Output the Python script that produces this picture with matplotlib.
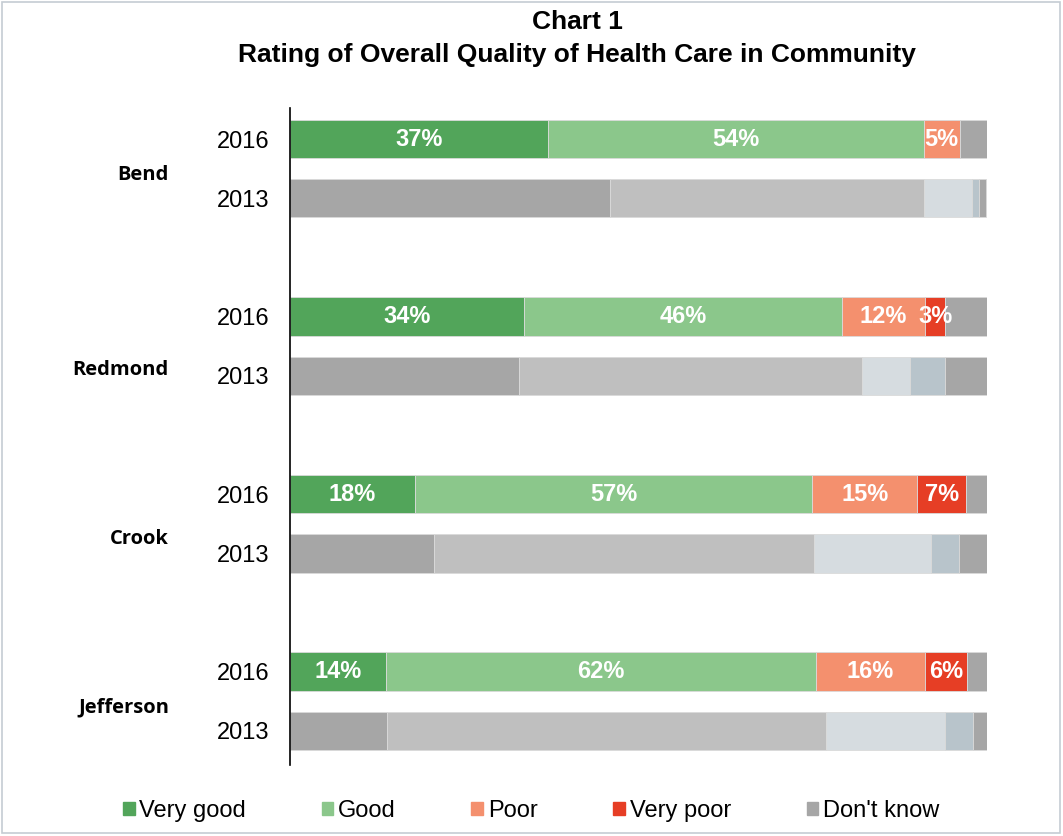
import numpy as np
import matplotlib
matplotlib.use("Agg")
import matplotlib.pyplot as plt
from matplotlib.patches import Rectangle
from matplotlib.transforms import blended_transform_factory

plt.rcParams['font.family'] = ['Liberation Sans', 'DejaVu Sans']

# data (percent)
regions = ["Bend", "Redmond", "Crook", "Jefferson"]
years = ["2016", "2013"]
categories = ["Very good", "Good", "Poor", "Very poor", "Don't know"]

very_good = [37.0, 45.9, 33.6, 32.9, 17.9, 20.7, 13.8, 13.9]
good      = [53.9, 45.0, 45.6, 49.1, 57.0, 54.5, 61.6, 63.0]
poor      = [5.2, 6.9, 11.9, 7.0, 15.1, 16.8, 15.7, 17.1]
very_poor = [0.0, 1.1, 2.9, 5.0, 7.0, 4.0, 6.0, 4.0]
dont_know = [3.9, 1.0, 6.0, 6.0, 3.0, 4.0, 2.9, 2.0]

colors_2016 = ["#52A55A", "#8BC78B", "#F4906E", "#E63E25", "#A6A6A6"]
colors_2013 = ["#A6A6A6", "#BFBFBF", "#D6DCE0", "#B8C4CB", "#A6A6A6"]

series = [very_good, good, poor, very_poor, dont_know]

fig = plt.figure(figsize=(10.63, 8.36), dpi=100)
ax = fig.add_axes([290/1063, 1-765/836, (987-290)/1063, (765-108)/836])

ypos = []
for g in range(len(regions)):
    for k in range(len(years)):
        ypos.append(g*3 + k)
ypos = np.array(ypos, dtype=float)

left = np.zeros(len(ypos))
for i, (vals, cat) in enumerate(zip(series, categories)):
    vals = np.array(vals)
    cols = [colors_2016[i] if j % 2 == 0 else colors_2013[i] for j in range(len(ypos))]
    ax.barh(ypos, vals, left=left, height=0.65, color=cols,
            edgecolor="#DADADA", linewidth=0.6, label=cat)
    if i < 4:
        for j in range(0, len(ypos), 2):
            if vals[j] > 0:
                ax.text(left[j] + vals[j]/2, ypos[j], f"{round(vals[j])}%",
                        ha="center", va="center", color="white",
                        fontsize=17, fontweight="bold")
    left += vals

ax.set_xlim(0, 100)
ax.set_ylim(10.576, -0.525)
ax.set_yticks(ypos)
ax.set_yticklabels(years * len(regions), fontsize=17)
ax.tick_params(axis="y", length=0, pad=15)
ax.set_xticks([])
for s in ["top", "right", "bottom"]:
    ax.spines[s].set_visible(False)
ax.spines["left"].set_color("black")
ax.spines["left"].set_linewidth(1.2)

# group labels, right aligned
trans = blended_transform_factory(fig.transFigure, ax.transData)
group_y = [0.6, 3.9, 6.75, 9.6]
for name, gy in zip(regions, group_y):
    ax.text(169/1063, gy, name, transform=trans, ha="right", va="center",
            fontsize=14.5, fontweight="bold", family=["Open Sans", "DejaVu Sans"])

fig.text(577/1063, 1-22/836, "Chart 1", ha="center", va="center",
         fontsize=19, fontweight="bold")
fig.text(577/1063, 1-55/836, "Rating of Overall Quality of Health Care in Community",
         ha="center", va="center", fontsize=19, fontweight="bold")

handles = [Rectangle((0, 0), 1, 1, color=c) for c in colors_2016]
fig.legend(handles, categories, loc="center", bbox_to_anchor=(531/1063, 1-811/836),
           ncol=5, frameon=False, fontsize=17, handlelength=0.5, handleheight=0.5,
           handletextpad=0.2, columnspacing=3.2)

fig.patches.append(Rectangle((0.002, 0.003), 0.995, 0.995, transform=fig.transFigure,
                             fill=False, edgecolor="#C5CCD3", linewidth=1.2))

fig.savefig("out.png", dpi=100)
